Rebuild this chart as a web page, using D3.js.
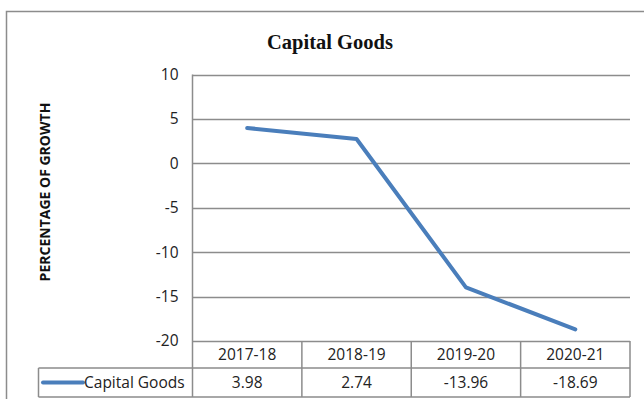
<!DOCTYPE html>
<html><head><meta charset="utf-8">
<script src="https://cdn.jsdelivr.net/npm/d3@7"></script>
<style>html,body{margin:0;padding:0;background:#fff;}svg{display:block;}</style>
</head><body>
<svg id="c" width="644" height="399"></svg>
<script>
const categories = ["2017-18", "2018-19", "2019-20", "2020-21"];
const seriesName = "Capital Goods";
const values = [3.98, 2.74, -13.96, -18.69];
const valueLabels = ["3.98", "2.74", "-13.96", "-18.69"];
const yTicks = [10, 5, 0, -5, -10, -15, -20];
const title = "Capital Goods";
const yTitle = "PERCENTAGE OF GROWTH";

const svg = d3.select("#c");
const plot = {left: 192.5, right: 630, top: 74.5, bottom: 341};
const rowH = [341, 368, 397];
const font = "'Open Sans', 'Noto Sans', sans-serif";
const fs = 15.5;
const grid = "#8c8c8c";

// outer frame
svg.append("path").attr("d", "M6.5,399 V11.5 H644").attr("fill", "none").attr("stroke", "#8c8c8c").attr("stroke-width", 1.5);

const x = d3.scaleBand().domain(categories).range([plot.left, plot.right]);
const y = d3.scaleLinear().domain([-20, 10]).range([plot.bottom, plot.top]);

// gridlines
svg.append("g").selectAll("line").data(yTicks).join("line")
  .attr("x1", plot.left).attr("x2", plot.right)
  .attr("y1", d => Math.round(y(d)) + 0.5).attr("y2", d => Math.round(y(d)) + 0.5)
  .attr("stroke", grid).attr("stroke-width", 1.5);
svg.append("line").attr("x1", plot.left).attr("x2", plot.left).attr("y1", plot.top).attr("y2", plot.bottom)
  .attr("stroke", grid).attr("stroke-width", 1.5);

// y axis
const yAxis = d3.axisLeft(y).tickValues(yTicks).tickSize(0).tickPadding(14).tickFormat(d => String(d));
const ga = svg.append("g").attr("transform", `translate(${plot.left},0)`).call(yAxis);
ga.select(".domain").remove();
ga.selectAll("text").attr("font-family", font).attr("font-size", fs).attr("fill", "#222");

// title
svg.append("text").attr("x", 330).attr("y", 49).attr("text-anchor", "middle")
  .attr("font-family", "'Liberation Serif', 'Times New Roman', serif").attr("font-weight", "bold")
  .attr("font-size", 20.5).attr("fill", "#111").text(title);

// y title
svg.append("text").attr("transform", "translate(50,192) rotate(-90)").attr("text-anchor", "middle")
  .attr("font-family", font).attr("font-weight", "bold").attr("font-size", 14).attr("fill", "#111").text(yTitle);

// data table
const tbl = svg.append("g");
const cols = categories.map(c => ({c, x0: x(c), x1: x(c) + x.bandwidth()}));
tbl.append("path").attr("fill", "none").attr("stroke", grid).attr("stroke-width", 1.5)
  .attr("d", `M${plot.left},${rowH[0]} V${rowH[2]} M${plot.right},${rowH[0]} V${rowH[2]} M38.5,${rowH[1]} H${plot.right} M38.5,${rowH[2]} H${plot.right} M38.5,${rowH[1]} V${rowH[2]}`);
tbl.selectAll("line.v").data(cols.slice(1)).join("line").attr("class", "v")
  .attr("x1", d => d.x0).attr("x2", d => d.x0).attr("y1", rowH[0]).attr("y2", rowH[2])
  .attr("stroke", grid).attr("stroke-width", 1.5);
tbl.selectAll("text.cat").data(categories).join("text").attr("class", "cat")
  .attr("x", d => x(d) + x.bandwidth() / 2).attr("y", (rowH[0] + rowH[1]) / 2 + 5.5)
  .attr("text-anchor", "middle").attr("font-family", font).attr("font-size", fs).attr("fill", "#222").text(d => d);
tbl.selectAll("text.val").data(valueLabels).join("text").attr("class", "val")
  .attr("x", (d, i) => x(categories[i]) + x.bandwidth() / 2).attr("y", (rowH[1] + rowH[2]) / 2 + 5.5)
  .attr("text-anchor", "middle").attr("font-family", font).attr("font-size", fs).attr("fill", "#222").text(d => d);
// legend key
const ly = (rowH[1] + rowH[2]) / 2;
tbl.append("line").attr("x1", 43).attr("x2", 83).attr("y1", ly).attr("y2", ly)
  .attr("stroke", "#4a7ebb").attr("stroke-width", 4).attr("stroke-linecap", "round");
tbl.append("text").attr("x", 84).attr("y", ly + 5.5).attr("font-family", font).attr("font-size", fs)
  .attr("fill", "#222").text(seriesName);

// line
const line = d3.line().x((d, i) => x(categories[i]) + x.bandwidth() / 2).y(d => y(d));
svg.append("path").datum(values).attr("d", line).attr("fill", "none")
  .attr("stroke", "#4a7ebb").attr("stroke-width", 4).attr("stroke-linecap", "round").attr("stroke-linejoin", "round");
</script>
</body></html>
